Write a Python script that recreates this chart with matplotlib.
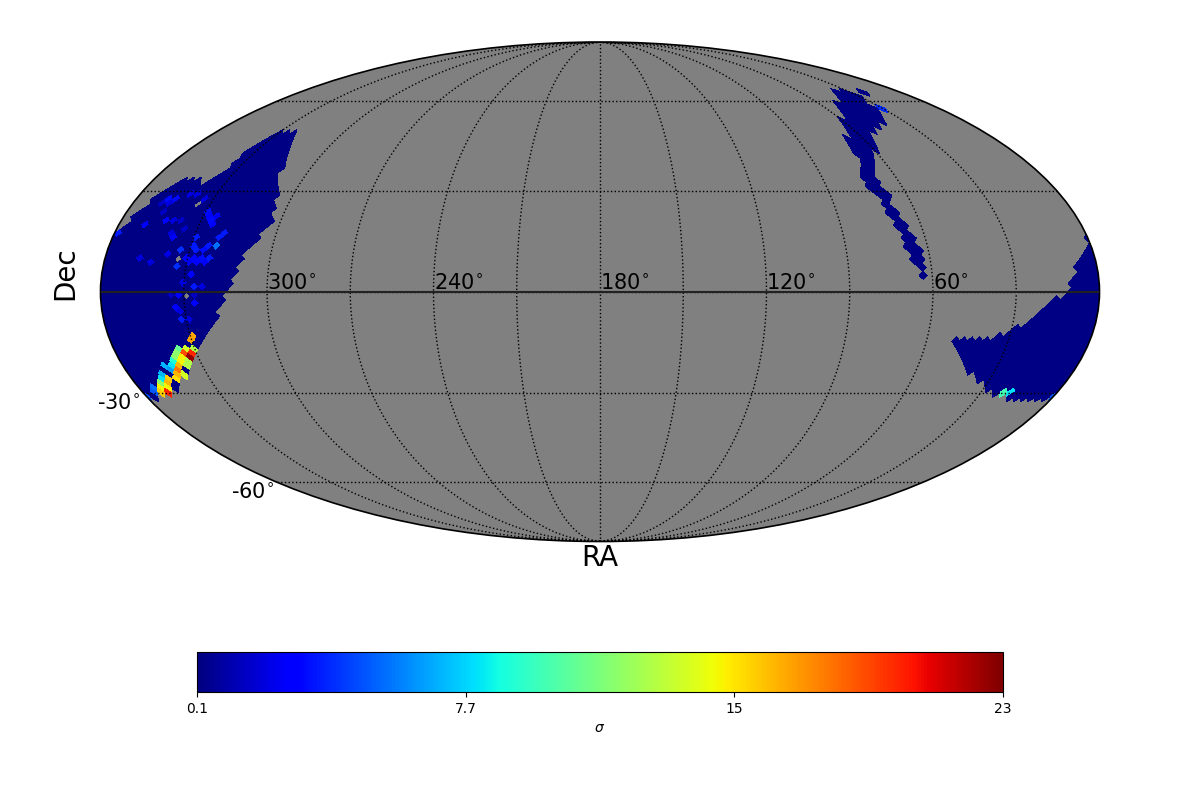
import numpy as np
import matplotlib
matplotlib.use('Agg')
import matplotlib.pyplot as plt
from matplotlib.collections import PolyCollection
from matplotlib.path import Path

NSIDE = 32
VMIN, VMAX = 0.1, 23.0
BASE_SIGMA = 0.2

# footprint outlines, (RA, Dec) in degrees
west_ra = [322.8, 311.8, 310.4, 306.3, 305.0, 303.5, 306.9, 310.2, 311.9, 314.4, 319.5, 328.7, 338.1, 348.0,
           355.6, 361.0, 361.0, 359.0, 354.5, 353.0, 350.0, 346.7, 341.0, 338.1, 334.0, 335.4, 334.0, 332.0]
west_dec = [49.5, 38.2, 34.4, 29.7, 25.8, 19.8, 14.7, 10.0, 5.9, 0.0, -7.6, -16.5, -24.0, -30.0,
            -31.3, -32.0, 16.0, 17.6, 25.2, 28.8, 31.0, 33.6, 34.0, 31.3, 38.2, 42.5, 44.1, 48.8]
east_ra = [-1.0, 1.5, 1.0, 6.5, 9.4, 11.7, 15.3, 23.6, 30.9, 37.0, 44.1, 51.8, 43.2, 35.3, 30.5, 25.4, 12.0, -1.0]
east_dec = [16.0, 15.5, 14.0, 8.7, 3.5, -0.9, -1.5, -8.5, -12.0, -13.5, -14.0, -13.2, -21.6, -25.5, -27.6, -30.0,
            -32.3, -32.0]
stream_ra = [31.1, 40.7, 53.3, 62.8, 69.7, 69.4, 74.4, 73.9, 71.6, 71.5, 69.4, 68.5, 67.4, 65.7, 63.4,
             61.8, 63.9, 65.1, 66.3, 67.7, 67.3, 68.7, 68.3, 62.3, 59.0, 55.9, 51.5, 39.3, 33.0, 31.0, 29.1]
stream_dec = [65.0, 63.0, 57.3, 50.8, 43.4, 39.2, 34.4, 31.3, 28.8, 23.6, 20.3, 15.7, 12.3, 8.5, 3.5,
              10.0, 13.2, 17.3, 21.2, 25.2, 28.8, 31.3, 34.4, 41.4, 42.5, 47.4, 48.8, 53.3, 58.8, 61.4, 63.8]
patch_ra = [20.0, 25.0, 25.0, 20.0]
patch_dec = [64.5, 64.5, 62.5, 62.5]

# individual pixels with a higher sigma
cell_ra = [358.3, 350.6, 342.6, 339.6, 346.6, 344.8, 348.0, 336.6, 333.0, 328.1, 325.3, 325.1, 324.6, 321.2, 319.0,
           320.3, 329.0, 329.4, 326.9, 327.4, 328.8, 324.3, 321.2, 322.6, 332.8, 337.1, 333.2, 336.7, 347.7, 343.3,
           327.3, 329.7, 323.1, 326.0, 328.8, 331.7, 334.3, 325.6, 325.7, 332.7, 331.2, 331.7, 328.8,
           329.2, 330.4, 330.5, 331.4, 334.4, 333.2, 332.9, 335.9, 335.9, 338.9, 336.0, 338.4, 341.4, 339.9, 343.5,
           342.3, 345.0, 347.0, 349.4, 348.6, 351.0, 354.1, 359.4, 21.1, 18.3, 30.5,
           336.9, 339.0, 341.6, 338.7, 347.0, 346.2, 350.1, 349.5, 345.4,
           345.4, 345.9, 346.4, 349.6, 339.3, 326.7, 324.1, 323.2, 325.3, 328.8, 327.8, 324.5, 330.0, 326.2, 329.5,
           338.8, 333.6, 337.7, 342.6,
           337.5, 334.7, 340.3, 341.0, 343.8, 339.6, 348.8, 351.6, 350.2, 353.0, 356.0]
cell_dec = [16.7, 20.3, 20.6, 20.6, 27.2, 28.2, 25.8, 28.2, 27.2, 23.3, 20.6, 22.7, 18.8, 16.1, 17.3,
            13.2, 14.7, 13.2, 12.3, 10.2, 8.8, 11.7, 10.0, 8.5, 12.3, 16.1, 7.0, 10.8, 8.8, 8.8,
            4.1, 2.9, 1.2, 1.2, -0.3, -1.2, -1.2, -1.2, -3.5, -4.7, -6.1, -8.5, -8.5,
            -13.5, -14.7, -17.1, -18.3, -18.0, -16.5, -19.4, -16.8, -19.4, -19.4, -22.4, -21.5, -21.5, -23.3, -23.6,
            -25.5, -25.5, -27.6, -26.3, -29.4, -27.6, -28.2, -31.0, -30.4, -30.4, 57.3,
            -20.6, -22.4, -24.4, -23.6, -26.3, -24.4, -28.6, -28.6, -26.6,
            25.8, 24.8, 23.3, 26.4, 28.8, 22.0, 19.8, 13.7, 12.9, 15.7, 11.4, 10.2, 10.2, 8.5, 7.9,
            18.1, 18.1, 20.6, 8.5,
            -18.2, -20.74, -20.74, -22.0, -22.0, -24.6, -25.9, -28.6, -30.0, -30.0, -30.0]
cell_sigma = [3.5, 3.0, 3.0, 2.0, 3.2, 3.2, 2.0, 2.0, 2.0, 3.2, 3.2, 2.5, 2.5, 3.5, 3.5,
              5.5, 3.2, 3.5, 3.0, 3.0, 3.0, 3.0, 3.5, 3.0, 4.0, 2.8, 4.0, 2.2, 2.0, 2.0,
              2.8, 2.2, 2.0, 3.5, 2.0, 3.0, 1.5, 1.5, 3.0, 3.0, 2.0, 3.5, 2.0,
              17.0, 17.0, 13.0, 20.0, 19.0, 14.0, 22.5, 11.0, 15.0, 12.0, 13.0, 16.5, 9.0, 18.0, 6.5,
              15.5, 8.0, 16.5, 9.0, 20.0, 12.0, 5.5, 5.0, 10.0, 8.0, 4.0,
              15.0, 16.5, 16.5, 13.0, 8.0, 7.0, 17.0, 15.0, 16.0,
              3.0, 2.0, 1.5, 1.5, 2.0, 3.0, 3.0, 3.5, 3.2, 3.5, 3.5, 3.2, 3.0, 3.0, 2.5,
              2.0, 1.5, 1.5, 2.0,
              12.0, 13.0, 9.0, 8.0, 7.0, 14.0, 8.0, 15.0, 20.0, 16.0, 5.0]

# pixels inside the footprint without data
hole_ra = [334.2, 333.6, 328.5]
hole_dec = [25.8, 10.0, -1.2]

grid_ra_labels = [300, 240, 180, 120, 60]
grid_dec_labels = [-30, -60]
cbar_ticks = [0.1, 7.73, 15.37, 23.0]
cbar_labels = ['0.1', '7.7', '15', '23']


def ring_pixels(nside):
    ra, dec, xs, ys = [], [], [], []
    for i in range(1, 4 * nside):
        ring = min(i, 4 * nside - i)
        y = np.pi / 2 - i * np.pi / (4 * nside)
        if ring < nside:
            z = 1 - ring ** 2 / (3 * nside ** 2)
            if i > 2 * nside:
                z = -z
            phi = (np.arange(4 * ring) + 0.5) * np.pi / (2 * ring)
            sig = ring / nside
            x = phi + (sig - 1) * (np.mod(phi, np.pi / 2) - np.pi / 4)
        else:
            z = 8 * y / (3 * np.pi)
            shift = 0.5 * ((i - nside + 1) % 2)
            phi = (np.arange(4 * nside) + shift) * np.pi / (2 * nside)
            x = phi
        ra.append(np.degrees(phi))
        dec.append(np.full(phi.size, np.degrees(np.arcsin(z))))
        xs.append(x)
        ys.append(np.full(phi.size, y))
    return [np.concatenate(v) for v in (ra, dec, xs, ys)]


def plane_to_sky(x, y):
    ay = np.abs(y)
    if ay <= np.pi / 4:
        return np.degrees(x), np.degrees(np.arcsin(8 * y / (3 * np.pi)))
    xt = np.mod(x, np.pi / 2)
    phi = x - (ay - np.pi / 4) / (ay - np.pi / 2) * (xt - np.pi / 4)
    z = (1 - (2 - 4 * ay / np.pi) ** 2 / 3) * np.sign(y)
    return np.degrees(phi), np.degrees(np.arcsin(z))


def unit(ra, dec):
    ra, dec = np.radians(ra), np.radians(dec)
    return np.stack([np.cos(dec) * np.cos(ra), np.cos(dec) * np.sin(ra), np.sin(dec)], axis=-1)


pix_ra, pix_dec, pix_x, pix_y = ring_pixels(NSIDE)
pix_vec = unit(pix_ra, pix_dec)
sky = np.column_stack([pix_ra, pix_dec])

inside = np.zeros(pix_ra.size, dtype=bool)
for o_ra, o_dec in [(west_ra, west_dec), (east_ra, east_dec), (stream_ra, stream_dec), (patch_ra, patch_dec)]:
    outline = Path(np.column_stack([o_ra, o_dec]), closed=False)
    inside |= outline.contains_points(sky)
    inside |= outline.contains_points(sky + [360, 0])
    inside |= outline.contains_points(sky - [360, 0])

sigma = np.full(pix_ra.size, BASE_SIGMA)
for r, d, s in zip(cell_ra, cell_dec, cell_sigma):
    k = np.argmax(pix_vec @ unit(r, d))
    sigma[k] = s
    inside[k] = True
for r, d in zip(hole_ra, hole_dec):
    inside[np.argmax(pix_vec @ unit(r, d))] = False

half = np.pi / (4 * NSIDE)
polys, vals = [], []
for k in np.where(inside)[0]:
    corners = [(pix_x[k] + half, pix_y[k]), (pix_x[k], pix_y[k] + half),
               (pix_x[k] - half, pix_y[k]), (pix_x[k], pix_y[k] - half)]
    pts = np.array([plane_to_sky(cx, cy) for cx, cy in corners])
    lon = 180 - pts[:, 0]
    lon = np.where(lon < -180 - 2 * np.degrees(half), lon + 360, lon)
    lon = np.where(lon > 180 + 2 * np.degrees(half), lon - 360, lon)
    for off in (-360, 0, 360):
        shifted = lon + off
        if shifted.max() <= -180 or shifted.min() >= 180:
            continue
        polys.append(np.radians(np.column_stack([np.clip(shifted, -180, 180), pts[:, 1]])))
        vals.append(sigma[k])

fig = plt.figure(figsize=(12, 8), dpi=100)
ax = fig.add_axes([100.5 / 1200, 1 - 541.5 / 800, 999 / 1200, 499.5 / 800], projection='mollweide')
ax.set_facecolor('#808080')

cells = PolyCollection(polys, array=np.array(vals), cmap='jet', edgecolors='none', linewidths=0,
                       antialiaseds=False, zorder=1)
cells.set_clim(VMIN, VMAX)
ax.add_collection(cells)

ax.set_longitude_grid(30)
ax.set_latitude_grid(30)
ax.set_longitude_grid_ends(90)
ax.xaxis.set_ticklabels([])
ax.yaxis.set_ticklabels([])
ax.grid(True, color='black', linestyle=':', linewidth=1)
ax.set_axisbelow(False)
ax.plot([-np.pi, np.pi], [0, 0], color='#222222', linewidth=1.5, zorder=3)
ax.spines['geo'].set_linewidth(1.2)

for ra in grid_ra_labels:
    ax.text(np.radians(180 - ra), np.radians(-0.5), f'{ra}$^{{\\circ}}$', fontsize=15, ha='left', va='bottom')
for dec in grid_dec_labels:
    ax.text(np.radians(-181.2), np.radians(dec), f'{dec}$^{{\\circ}}$', fontsize=15, ha='right', va='top')

fig.text(0.5, 1 - 558 / 800, 'RA', fontsize=20, ha='center', va='center')
fig.text(65 / 1200, 1 - 273 / 800, 'Dec', fontsize=20, rotation=90, ha='center', va='center')

cax = fig.add_axes([197 / 1200, 1 - 692 / 800, 806 / 1200, 40 / 800])
cb = fig.colorbar(cells, cax=cax, orientation='horizontal', ticks=cbar_ticks)
cb.set_ticklabels(cbar_labels)
cb.set_label(r'$\sigma$')

fig.savefig('out.png', dpi=100)
